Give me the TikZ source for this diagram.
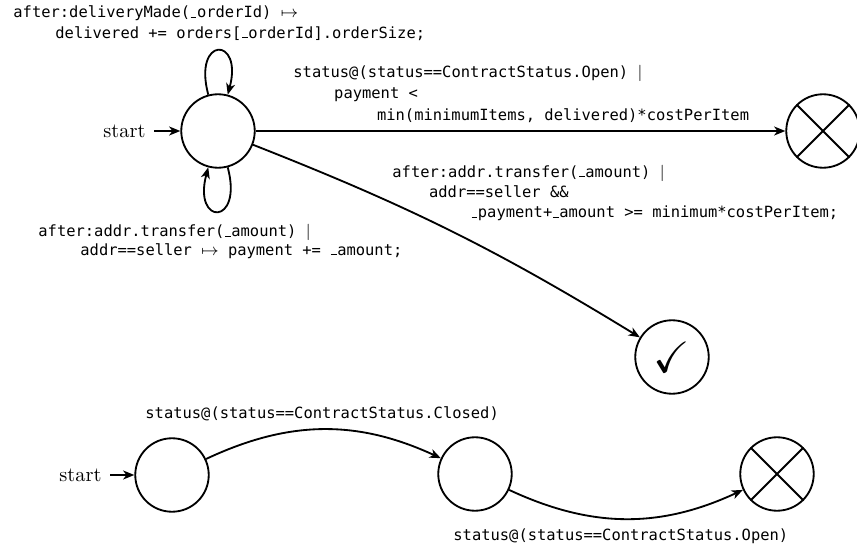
\documentclass[tikz,border=0pt]{standalone}
\usepackage{amssymb}
\usepackage{fontspec}
\newfontfamily\codefont{DejaVu Sans Mono}
\usetikzlibrary{arrows.meta}
% short low underscore, as in the listings of guards
\newcommand\us{\kern0.04em\rule{0.37em}{0.45pt}\kern0.04em}
\newcommand\codesize{\codefont\fontsize{7.57}{10}\selectfont}

\begin{document}
\begin{tikzpicture}[x=0.49pt,y=-0.49pt,
  >={Stealth[length=5.5pt,width=4.4pt,inset=1.6pt]},
  state/.style={circle,draw,line width=0.9pt,minimum size=36pt,inner sep=0pt},
  edge/.style={->,line width=0.9pt},
  % multi-line labels are placed by the baseline of their last line
  codelbl/.style={anchor=base west,align=left,inner sep=0pt,font=\codesize},
  startlbl/.style={anchor=east,inner sep=2pt},
  xmark/.style={line width=0.9pt}
]
\useasboundingbox (0,0) rectangle (857,548);

% ---- first automaton ----
\node[state] (q0) at (218,131) {};
\node[state] (fail1) at (823,131) {};
\draw[xmark] (fail1.45) -- (fail1.225) (fail1.135) -- (fail1.315);
\node[state] (ok) at (672,357) {\fontsize{21.5}{24}\selectfont$\checkmark$};

\node[startlbl] (s0) at (150,131) {start};
\draw[edge,shorten <=2pt] (s0) -- (q0);

\draw[edge] (q0) to[loop above] ();
\draw[edge] (q0) to[loop below] ();
\draw[edge] (q0) -- (fail1);
\draw[edge] (q0) to[bend left=5] (ok);

\node[codelbl] (l1) at (13,38)
  {after:deliveryMade(\us orderId) $\mapsto$\\
   \hspace*{20.6pt}delivered += orders[\us orderId].orderSize;};
\node[codelbl] (l2) at (293,120)
  {status@(status==ContractStatus.Open) $|$\\[0.3pt]
   \hspace*{20pt}payment <\\[0.3pt]
   \hspace*{41pt}min(minimumItems, delivered)*costPerItem};
\node[codelbl] (l3) at (392,218)
  {after:addr.transfer(\us amount) $|$\\
   \hspace*{18pt}addr==seller \&\&\\
   \hspace*{38.5pt}\us payment+\us amount >= minimum*costPerItem;};
\node[codelbl] (l4) at (38,255)
  {after:addr.transfer(\us amount) $|$\\[-1pt]
   \hspace*{20.6pt}addr==seller $\mapsto$ payment += \us amount;};

% ---- second automaton ----
\node[state] (p0) at (172,475) {};
\node[state] (p1) at (475,474) {};
\node[state] (fail2) at (777,474) {};
\draw[xmark] (fail2.45) -- (fail2.225) (fail2.135) -- (fail2.315);

\node[startlbl] (s1) at (106,475) {start};
\draw[edge,shorten <=2pt] (s1) -- (p0);

\draw[edge] (p0) to[bend left=25] (p1);
\draw[edge] (p1) to[bend right=25] (fail2);

\node[codelbl] (l5) at (145,418) {status@(status==ContractStatus.Closed)};
\node[codelbl] (l6) at (453,540) {status@(status==ContractStatus.Open)};
\end{tikzpicture}
\end{document}
